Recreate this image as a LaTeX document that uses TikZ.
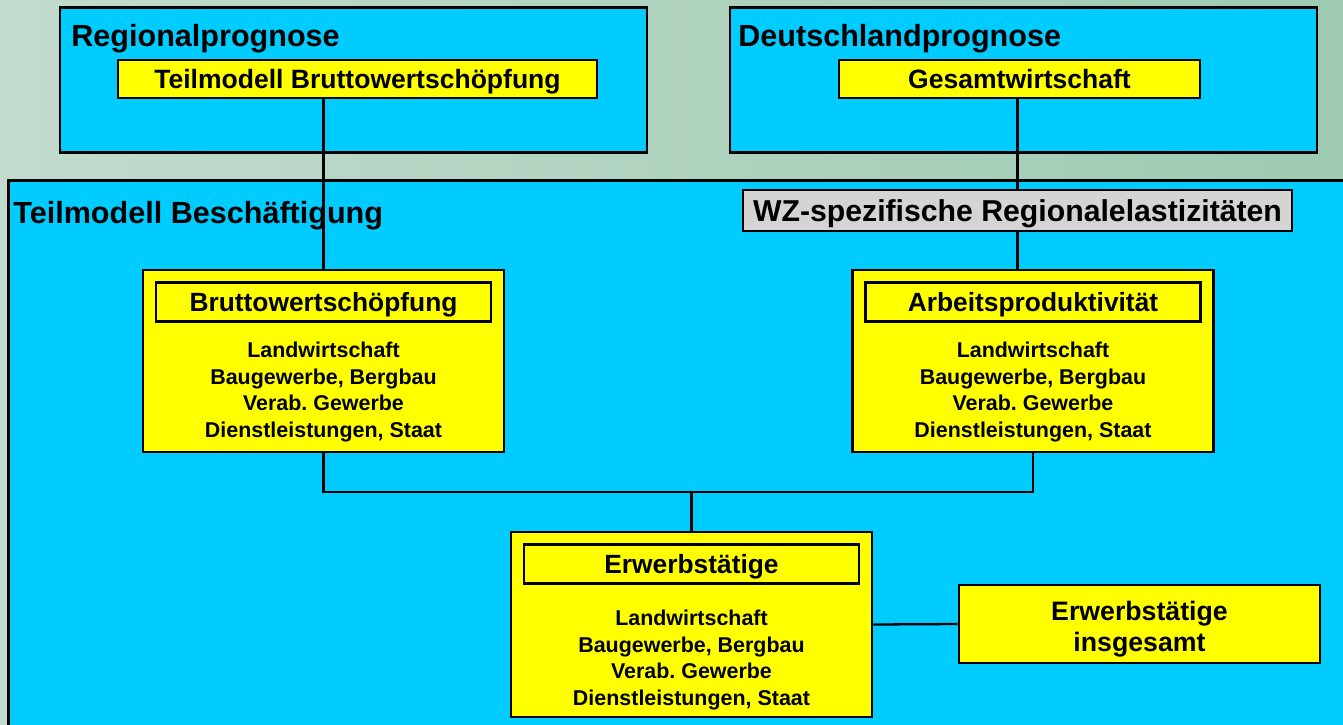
\documentclass[tikz,border=0pt]{standalone}
\usepackage{fontspec}
\setmainfont{Liberation Sans}
\usetikzlibrary{positioning, calc}
\frenchspacing

\definecolor{boxcyan}{RGB}{0,204,255}
\definecolor{boxyellow}{RGB}{255,255,0}
\definecolor{wzgrey}{RGB}{212,212,212}
\definecolor{bgleft}{RGB}{194,219,205}
\definecolor{bgmid}{RGB}{234,240,235}
\definecolor{bgright}{RGB}{158,202,178}

\begin{document}
\begin{tikzpicture}[
  x=0.02cm, y=-0.02cm,
  font=\bfseries,
  region/.style={draw=black, line width=1.5pt, fill=boxcyan, inner sep=0pt,
                 minimum width=11.74cm, minimum height=2.9cm},
  head/.style={font=\fontsize{17.4}{20}\selectfont\bfseries, inner sep=0pt, anchor=base west},
  sub/.style={draw=black, line width=1.4pt, fill=boxyellow, inner sep=0pt,
              minimum width=#1, minimum height=0.76cm, text depth=0pt,
              font=\fontsize{15.1}{18}\selectfont\bfseries},
  sector/.style={draw=black, line width=1.5pt, fill=boxyellow, inner sep=0pt,
                 minimum width=7.22cm, minimum height=#1},
  sector/.default=3.64cm,
  sectitle/.style={draw=black, line width=1.4pt, fill=boxyellow, inner sep=0pt,
                   minimum width=6.7cm, minimum height=0.78cm, text depth=0pt,
                   font=\fontsize{15}{18}\selectfont\bfseries},
  seclist/.style={align=center, inner sep=0pt,
                  font=\fontsize{12.2}{15.2}\selectfont\bfseries},
  link/.style={draw=black, line width=1.3pt},
]

\useasboundingbox (0,0) rectangle (1343,724);
\clip (0,0) rectangle (1343,724);

% ---------- Background ----------
\shade[left color=bgleft, middle color=bgmid, right color=bgright] (0,0) rectangle (1343,724);

% ---------- Prognoses ----------
\node[region] (reg) at (353.5,80) {};
\node[head] at (71,46) {Regionalprognose};
\node[sub=9.58cm] (tbws) at (357.5,79) {Teilmodell Bruttowertschöpfung};

\node[region] (deu) at (1023.5,80) {};
\node[head] at (738,46) {Deutschlandprognose};
\node[sub=7.22cm] (ges) at (1019.5,79) {Gesamtwirtschaft};

% ---------- Teilmodell Beschaeftigung ----------
\node[draw=black, line width=1.5pt, fill=boxcyan, anchor=north west,
      minimum width=28cm, minimum height=13cm] (emp) at (7,179) {};
\node[head] at (13,223) {Teilmodell Beschäftigung};
\node[draw=black, line width=1.4pt, fill=wzgrey, inner sep=0pt,
      minimum width=10.98cm, minimum height=0.82cm, text depth=0pt,
      font=\fontsize{17.2}{20}\selectfont\bfseries] (wz) at (1017.5,210.5)
      {WZ-spezifische Regionalelastizitäten};

\node[sector] (bws) at (323.5,361) {};
\node[sectitle, below=0.25cm of bws.north] (bwstit) {Bruttowertschöpfung};
\node[seclist, below=0.38cm of bwstit] (bwslist)
  {Landwirtschaft\\Baugewerbe, Bergbau\\Verab. Gewerbe\\Dienstleistungen, Staat};

\node[sector] (ap) at (1033,361) {};
\node[sectitle, below=0.25cm of ap.north] (aptit) {Arbeitsproduktivität};
\node[seclist, below=0.38cm of aptit] (aplist)
  {Landwirtschaft\\Baugewerbe, Bergbau\\Verab. Gewerbe\\Dienstleistungen, Staat};

\node[sector=3.7cm] (erw) at (691.5,624.5) {};
\node[sectitle, below=0.25cm of erw.north] (erwtit) {Erwerbstätige};
\node[seclist, below=0.5cm of erwtit] (erwlist)
  {Landwirtschaft\\Baugewerbe, Bergbau\\Verab. Gewerbe\\Dienstleistungen, Staat};

\node[sector=1.56cm] (ins) at (1139.5,624) {};
\node[align=center, inner sep=0pt, font=\fontsize{15.2}{17.6}\selectfont\bfseries]
  (instext) at ($(ins.center)+(0,5)$) {Erwerbstätige\\insgesamt};

% ---------- Links ----------
\draw[link] (bws.north) -- (bws.north |- tbws.south);
\draw[link] (wz.north) -- (wz.north |- ges.south);
\draw[link] (wz.south) -- (wz.south |- ap.north);
\draw[link] (bws.south) -- ++(0,39) coordinate (bus) -| (ap.south);
\draw[link] (erw.north) -- (erw.north |- bus);
\draw[link] (erw.east) -- (ins.west);

\end{tikzpicture}
\end{document}
